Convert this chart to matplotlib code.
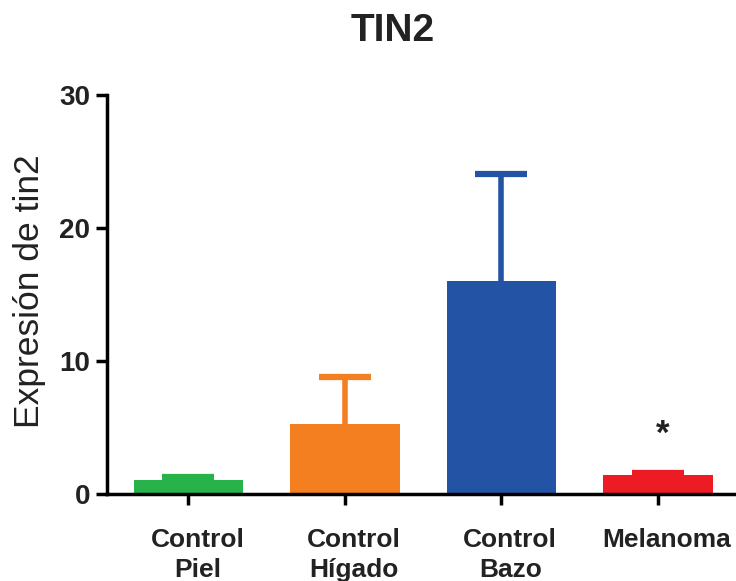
import matplotlib
matplotlib.use("Agg")
import matplotlib.pyplot as plt
import matplotlib.transforms as mtransforms

plt.rcParams['font.family'] = ['Liberation Sans', 'DejaVu Sans']

categories = ["Control\nPiel", "Control\nHígado", "Control\nBazo", "Melanoma"]
means = [1.05, 5.3, 16.0, 1.4]
errors = [0.24, 3.5, 8.05, 0.2]
colors = ["#27b24a", "#f47f20", "#2253a4", "#ed1c24"]
title = "TIN2"
ylabel = "Expresión de tin2"
yticks = [0, 10, 20, 30]
star_index = 3
star_y = 4.5

fig = plt.figure(figsize=(7.36, 5.81), dpi=100)
ax = fig.add_axes([0.1454, 0.1497, 0.8546, 0.6868])

x = list(range(len(categories)))
for i in x:
    ax.bar(i, means[i], width=0.70, color=colors[i], zorder=2)
    eb = ax.errorbar(i, means[i], yerr=[[0], [errors[i]]], fmt='none',
                     ecolor=colors[i], elinewidth=4, capsize=19, capthick=4.5, zorder=1)
    caps = eb[1]
    if len(caps) > 0:
        caps[0].set_visible(False)

ax.text(star_index + 0.03, star_y, "*", ha='center', va='center',
        fontsize=25, fontweight='bold', color='#222222')

ax.set_xlim(-0.52, 3.5)
ax.set_ylim(0, 30)
ax.set_yticks(yticks)
ax.set_xticks(x)
ax.set_xticklabels([])
offset = mtransforms.ScaledTranslation(9 / 100, -34 / 100, fig.dpi_scale_trans)
for i in x:
    ax.text(i, 0, categories[i], transform=ax.get_xaxis_transform() + offset,
            ha='center', va='top', fontsize=19, fontweight='bold',
            color='#222222', linespacing=1.3, clip_on=False)
for lbl in ax.get_yticklabels():
    lbl.set_fontsize(20)
    lbl.set_fontweight('bold')
    lbl.set_color('#222222')

for s in ['top', 'right']:
    ax.spines[s].set_visible(False)
for s in ['left', 'bottom']:
    ax.spines[s].set_linewidth(2.5)
    ax.spines[s].set_color('black')
    ax.spines[s].set_zorder(3)

ax.tick_params(axis='both', width=2.5, length=8, color='black')
ax.tick_params(axis='y', pad=4)

fig.text(30 / 736, 1 - 291.5 / 581, ylabel, rotation=90, ha='center', va='center',
         fontsize=25.5, color='#222222')
fig.text(0.534, 0.946, title, ha='center', va='center', fontsize=28,
         fontweight='bold', color='#222222')

fig.savefig("out.png", dpi=100)
